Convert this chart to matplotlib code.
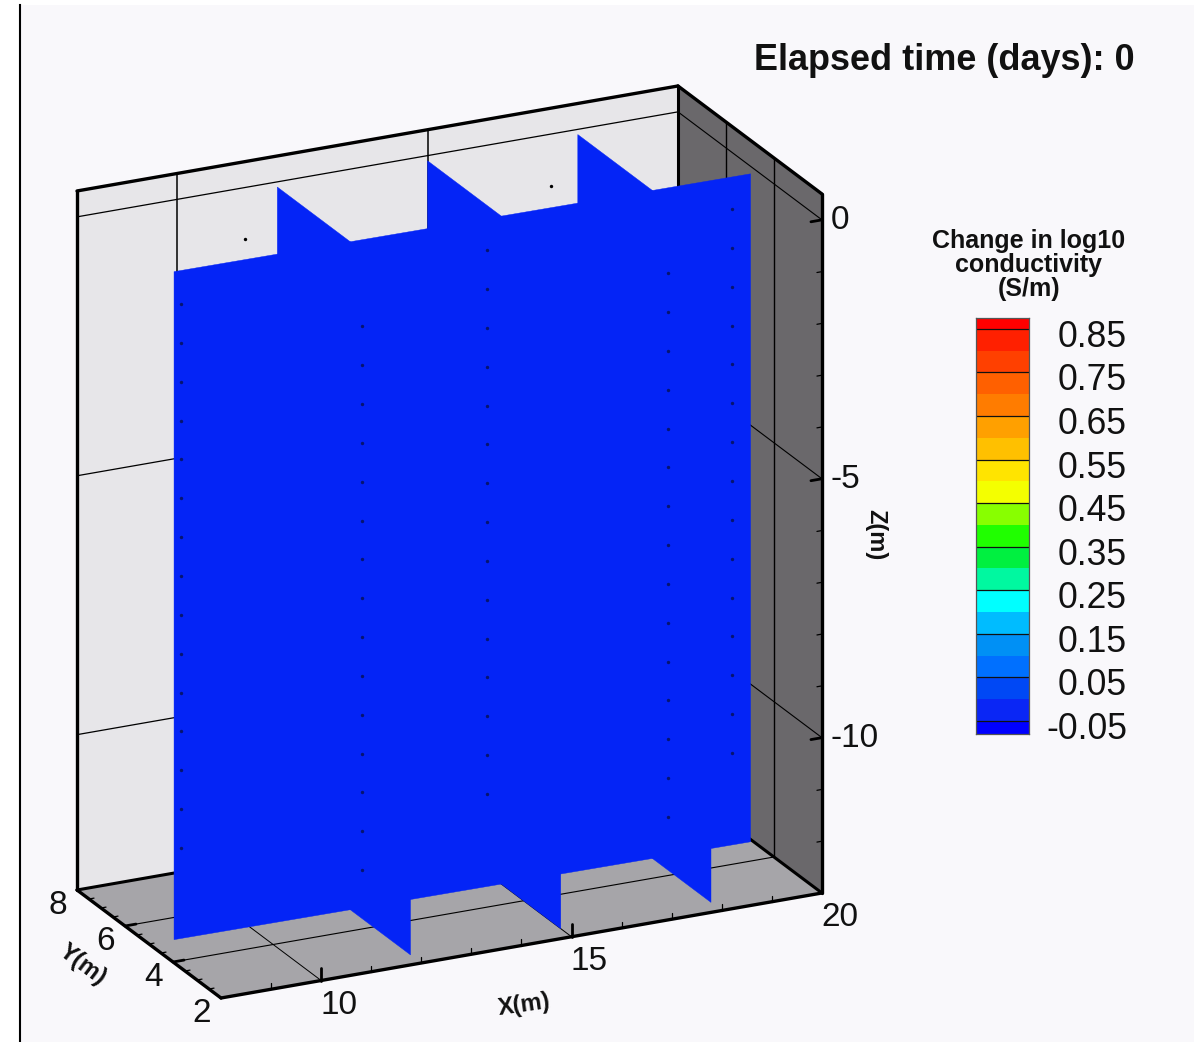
import matplotlib
matplotlib.use("Agg")
import matplotlib.pyplot as plt
from matplotlib.colors import ListedColormap, BoundaryNorm
from matplotlib.patches import Polygon, Rectangle
import numpy as np

plt.rcParams['font.family'] = ['Liberation Sans', 'DejaVu Sans']

# ---------- data ----------
x_range = [8, 20]
y_range = [2, 8]
z_range = [-13, 0.5]
x_major = [10, 15, 20]
y_major = [2, 4, 6, 8]
z_major = [0, -5, -10]
x_minor = [9, 11, 12, 13, 14, 16, 17, 18, 19]
y_minor = [2.5, 3, 3.5, 4.5, 5, 5.5, 6.5, 7, 7.5]
z_minor = [-1, -2, -3, -4, -6, -7, -8, -9, -11, -12]

ribbon_x = [8.5, 19.95]
ribbon_y = [5.0, 4.87]
fin_x = [12.0, 15.0, 18.0]
fin_y = [8.0, 2.45]
sheet_z = [-13.0, -0.1]

hole_x = [8.92, 11.37, 15.04, 17.48, 19.90]
hole_y = [5.58, 3.15, 5.60, 3.14, 5.52]
back_hole_x = [11.36, 17.46]
back_hole_y = [8.0, 8.0]
electrode_z = [-1.0, -1.75, -2.5, -3.25, -4.0, -4.75, -5.5, -6.25, -7.0,
               -7.75, -8.5, -9.25, -10.0, -10.75, -11.5]

cb_bounds = [-0.08, -0.05, 0.0, 0.05, 0.1, 0.15, 0.2, 0.25, 0.3, 0.35, 0.4,
             0.45, 0.5, 0.55, 0.6, 0.65, 0.7, 0.75, 0.8, 0.85, 0.875]
cb_colors = ['#0000FF', '#0A26F5', '#0048F5', '#0070FF', '#0090F5', '#00BCFF',
             '#00FFFF', '#00F8A0', '#00F040', '#20FF00', '#88FF00', '#F4FF00',
             '#FFE400', '#FFC000', '#FFA000', '#FF7C00', '#FF6000', '#FF4000',
             '#FF2000', '#FF0000']
cb_ticks = [0.85, 0.75, 0.65, 0.55, 0.45, 0.35, 0.25, 0.15, 0.05, -0.05]
cb_labels = ['0.85', '0.75', '0.65', '0.55', '0.45', '0.35', '0.25', '0.15', '0.05', '-0.05']

SHEET = '#0424F6'
W, H = 1194, 1042
fig = plt.figure(figsize=(W / 100, H / 100), dpi=100, facecolor='white')
ax = fig.add_axes([0, 0, 1, 1])
ax.set_xlim(0, W)
ax.set_ylim(H, 0)
ax.axis('off')


def P(x, y, z):
    """Orthographic view of the Tecplot box on the page."""
    px = 221 + 50.08 * (x - 8) - 24.0 * (y - 2)
    py = 998 - 8.75 * (x - 8) - 18.0 * (y - 2) - 51.78 * (z + 13)
    return px, py


def line(a, b, lw=0.8, color='black', z=3):
    pa, pb = P(*a), P(*b)
    ax.plot([pa[0], pb[0]], [pa[1], pb[1]], color=color, lw=lw, zorder=z,
            solid_capstyle='round')


def poly(pts, color, z=1):
    ax.add_patch(Polygon([P(*p) for p in pts], closed=True, fc=color, ec=color,
                         lw=0.3, zorder=z))


x0, x1 = x_range
y0, y1 = y_range
zb, zt = z_range

ax.add_patch(Rectangle((20, 5), W - 20, H - 5, fc='#F9F8FB', ec='none', zorder=0))
ax.plot([19.5, 19.5], [5, H], color='black', lw=1.5, zorder=1)

# walls
poly([(x0, y1, zb), (x1, y1, zb), (x1, y1, zt), (x0, y1, zt)], '#E7E6E9')
poly([(x0, y0, zb), (x1, y0, zb), (x1, y1, zb), (x0, y1, zb)], '#A6A5A9')
poly([(x1, y0, zb), (x1, y1, zb), (x1, y1, zt), (x1, y0, zt)], '#6A686B')

# grid
for xv in x_major[:-1]:
    line((xv, y1, zb), (xv, y1, zt), lw=1.1, z=2)
    line((xv, y0, zb), (xv, y1, zb), lw=0.7, z=2)
for yv in y_major[1:-1]:
    line((x0, yv, zb), (x1, yv, zb), lw=0.8, z=2)
    line((x1, yv, zb), (x1, yv, zt), lw=1.0, z=2)
for zv in z_major:
    line((x0, y1, zv), (x1, y1, zv), lw=0.9, z=2)
    line((x1, y1, zv), (x1, y0, zv), lw=0.8, z=2)

# electrodes behind the sheet
for hx, hy in zip(back_hole_x, back_hole_y):
    pts = [P(hx, hy, ez) for ez in electrode_z]
    ax.scatter([p[0] for p in pts], [p[1] for p in pts], s=6, color='black',
               linewidths=0, zorder=3)

# sheet: main ribbon and cross fins
poly([(ribbon_x[0], ribbon_y[0], sheet_z[0]), (ribbon_x[1], ribbon_y[1], sheet_z[0]),
      (ribbon_x[1], ribbon_y[1], sheet_z[1]), (ribbon_x[0], ribbon_y[0], sheet_z[1])], SHEET, z=4)
for fx in fin_x:
    poly([(fx, fin_y[0], sheet_z[0]), (fx, fin_y[1], sheet_z[0]),
          (fx, fin_y[1], sheet_z[1]), (fx, fin_y[0], sheet_z[1])], SHEET, z=4)

# electrodes in front of the sheet
for hx, hy in zip(hole_x, hole_y):
    pts = [P(hx, hy, ez) for ez in electrode_z]
    ax.scatter([p[0] for p in pts], [p[1] for p in pts], s=6, color='#061470',
               linewidths=0, zorder=5)

# box frame
for a, b in [((x0, y1, zt), (x1, y1, zt)), ((x1, y1, zt), (x1, y0, zt)),
             ((x0, y1, zb), (x0, y1, zt)), ((x1, y0, zb), (x1, y0, zt)),
             ((x0, y0, zb), (x1, y0, zb)), ((x0, y0, zb), (x0, y1, zb))]:
    line(a, b, lw=2.4, z=6)
for a, b in [((x0, y1, zb), (x1, y1, zb)), ((x1, y1, zb), (x1, y1, zt)),
             ((x1, y1, zb), (x1, y0, zb))]:
    line(a, b, lw=2.2, z=3)

# ticks
for xv in x_major[:-1]:
    line((xv, y0, zb), (xv, y0, zb + 0.24), lw=2.0, z=6)
for xv in x_minor:
    line((xv, y0, zb), (xv, y0, zb + 0.12), lw=0.9, z=6)
for yv in y_major[1:-1]:
    line((x0, yv, zb), (x0 + 0.22, yv, zb), lw=2.0, z=6)
for yv in y_minor:
    line((x0, yv, zb), (x0 + 0.1, yv, zb), lw=0.9, z=6)
for zv in z_major:
    line((x1, y0, zv), (x1 - 0.22, y0, zv), lw=2.0, z=6)
for zv in z_minor:
    line((x1, y0, zv), (x1 - 0.1, y0, zv), lw=0.9, z=6)

# tick labels
TICK = 24
for xv in x_major:
    p = P(xv, y0, zb)
    ax.text(p[0] + 18, p[1] + 25, str(xv), fontsize=TICK, ha='center', va='center', color='#111111', zorder=7)
for yv in y_major:
    p = P(x0, yv, zb)
    ax.text(p[0] - 19, p[1] + 15, str(yv), fontsize=TICK, ha='center', va='center', color='#111111', zorder=7)
for zv in z_major:
    p = P(x1, y0, zv)
    ax.text(p[0] + 9, p[1] + 1, str(zv), fontsize=TICK, ha='left', va='center', color='#111111', zorder=7)

# axis titles
ax.text(524, 1005, 'X(m)', fontsize=17, fontweight='bold', rotation=8, ha='center', va='center', color='#111111')
ax.text(83, 965, 'Y(m)', fontsize=17, fontweight='bold', rotation=-37, ha='center', va='center', color='#111111')
ax.text(876, 535, 'Z(m)', fontsize=17, fontweight='bold', rotation=-90, ha='center', va='center', color='#111111')

# title
ax.text(1135, 60, 'Elapsed time (days): 0', fontsize=25.9, fontweight='bold', ha='right', va='center', color='#111111')

# colour bar
ax.text(1029, 265, 'Change in log10\nconductivity\n(S/m)', fontsize=18, fontweight='bold',
        ha='center', va='center', linespacing=1.0, color='#111111')
cax = fig.add_axes([976 / W, 1 - 734 / H, 53 / W, 416 / H])
cmap = ListedColormap(cb_colors)
norm = BoundaryNorm(cb_bounds, cmap.N)
cax.pcolormesh([0, 1], cb_bounds, np.array(cb_bounds[:-1])[:, None] + 1e-4, cmap=cmap, norm=norm)
cax.set_ylim(cb_bounds[0], cb_bounds[-1])
cax.set_xlim(0, 1)
cax.set_xticks([])
cax.set_yticks([])
for s in cax.spines.values():
    s.set_linewidth(0.9)
    s.set_color('#555555')
for t, lab in zip(cb_ticks, cb_labels):
    cax.axhline(t, color='#111111', lw=0.9)
    cax.annotate(lab, xy=(1, t), xycoords=('axes fraction', 'data'),
                 xytext=(98 * 0.72, -8.5 * 0.72), textcoords='offset points',
                 fontsize=25.6, ha='right', va='center', color='#111111', annotation_clip=False)

fig.savefig('out.png', dpi=100, facecolor='white')
